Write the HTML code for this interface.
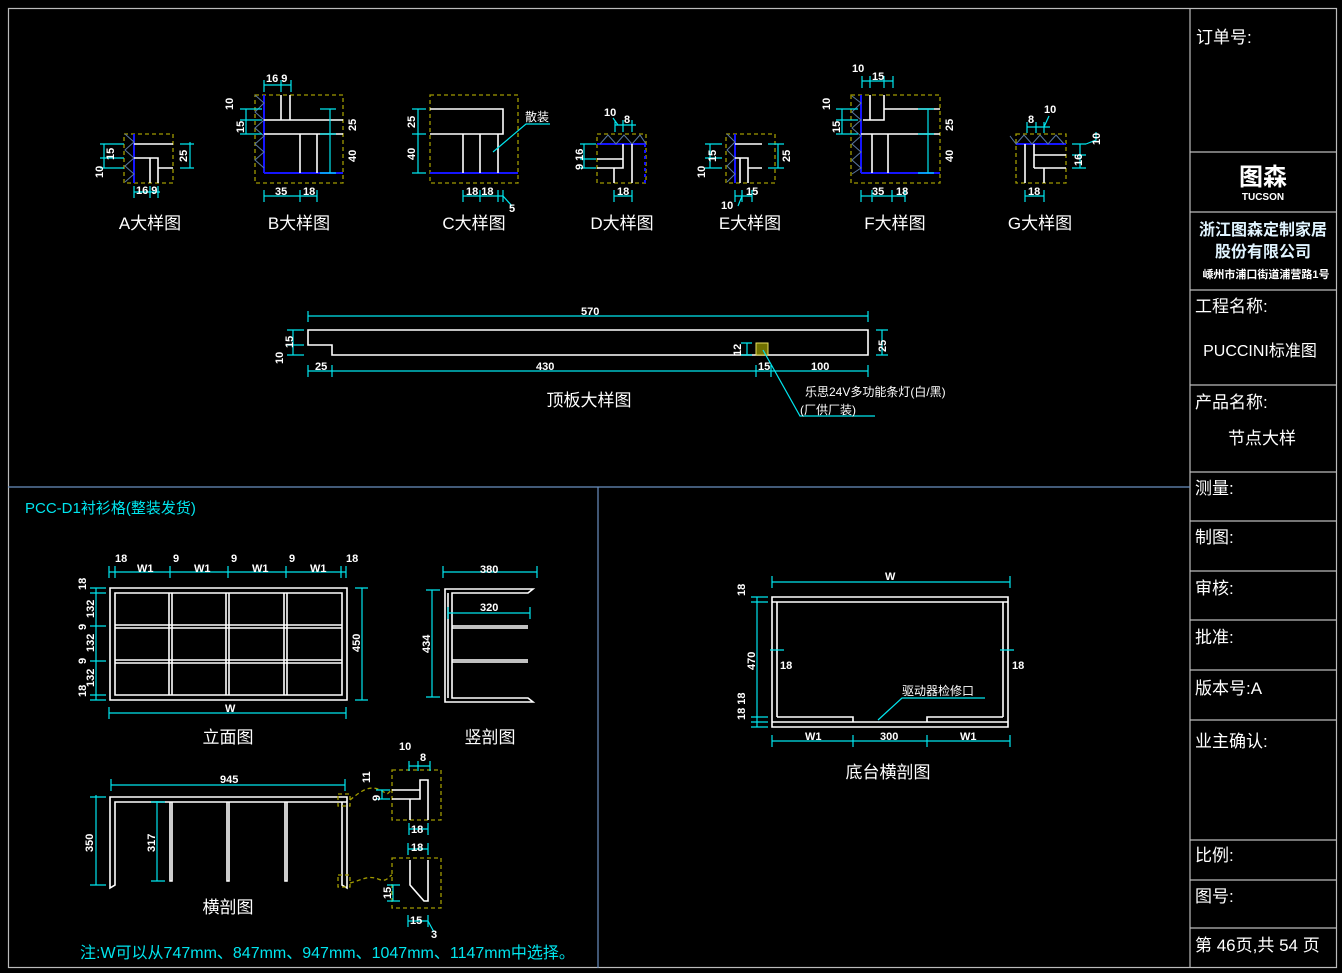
<!DOCTYPE html>
<html><head><meta charset="utf-8"><style>
html,body{margin:0;padding:0;background:#000;}
svg{display:block}
text{font-family:"Liberation Sans","Noto Sans CJK SC",sans-serif;}
.w{stroke:#fff;stroke-width:1.6;fill:none}
.c{stroke:#00e5ee;stroke-width:1.2;fill:none}
.y{stroke:#a09a00;stroke-width:1.3;fill:none;stroke-dasharray:4 3}
.b{stroke:#1515ff;stroke-width:2;fill:none}
.h{stroke:#5a78a0;stroke-width:1;fill:none}
.t{fill:#fff;font-size:11px;font-weight:bold}
.l{fill:#fff;font-size:17px}
.tb{fill:#fff;font-size:17px}
</style></head><body>
<svg width="1342" height="973" viewBox="0 0 1342 973">
<!-- frame -->
<rect x="8.5" y="8.5" width="1328" height="959" fill="none" stroke="#bbb" stroke-width="1.2"/>
<line x1="1190" y1="8" x2="1190" y2="968" stroke="#bbb" stroke-width="1.2"/>
<line x1="8" y1="487" x2="1190" y2="487" stroke="#6a90c0" stroke-width="1.2"/>
<line x1="598" y1="487" x2="598" y2="968" stroke="#6a90c0" stroke-width="1.2"/>
<g stroke="#bbb" stroke-width="1.2">
<line x1="1190" y1="152" x2="1336" y2="152"/><line x1="1190" y1="212" x2="1336" y2="212"/>
<line x1="1190" y1="290" x2="1336" y2="290"/><line x1="1190" y1="385" x2="1336" y2="385"/>
<line x1="1190" y1="472" x2="1336" y2="472"/><line x1="1190" y1="521" x2="1336" y2="521"/>
<line x1="1190" y1="571" x2="1336" y2="571"/><line x1="1190" y1="620" x2="1336" y2="620"/>
<line x1="1190" y1="670" x2="1336" y2="670"/><line x1="1190" y1="720" x2="1336" y2="720"/>
<line x1="1190" y1="840" x2="1336" y2="840"/><line x1="1190" y1="880" x2="1336" y2="880"/>
<line x1="1190" y1="928" x2="1336" y2="928"/>
</g>
<text class="tb" x="1196" y="43">订单号:</text>
<text x="1263" y="185" text-anchor="middle" fill="#fff" font-size="24" font-weight="bold">图森</text>
<text x="1263" y="200" text-anchor="middle" fill="#fff" font-size="10" font-weight="bold">TUCSON</text>
<text x="1263" y="235" text-anchor="middle" fill="#e0f4ff" font-size="16" font-weight="bold">浙江图森定制家居</text>
<text x="1263" y="257" text-anchor="middle" fill="#e0f4ff" font-size="16" font-weight="bold">股份有限公司</text>
<text x="1266" y="278" text-anchor="middle" fill="#fff" font-size="11" font-weight="bold">嵊州市浦口街道浦营路1号</text>
<text class="tb" x="1195" y="312">工程名称:</text>
<text x="1260" y="356" text-anchor="middle" fill="#fff" font-size="16">PUCCINI标准图</text>
<text class="tb" x="1195" y="408">产品名称:</text>
<text x="1262" y="444" text-anchor="middle" fill="#fff" font-size="17">节点大样</text>
<text class="tb" x="1195" y="494">测量:</text>
<text class="tb" x="1195" y="543">制图:</text>
<text class="tb" x="1195" y="594">审核:</text>
<text class="tb" x="1195" y="643">批准:</text>
<text class="tb" x="1195" y="694">版本号:A</text>
<text class="tb" x="1195" y="747">业主确认:</text>
<text class="tb" x="1195" y="861">比例:</text>
<text class="tb" x="1195" y="902">图号:</text>
<text class="tb" x="1195" y="951">第 46页,共 54 页</text>

<!-- A -->
<rect class="y" x="124" y="134" width="49" height="49"/>
<line class="b" x1="134" y1="134" x2="134" y2="183"/>
<polyline class="h" points="125,134 134,142 125,150 134,158 125,166 134,174 125,182"/>
<path class="w" d="M134 144H173M134 158H158V168H173M150 158V183M158 168V183"/>
<path class="c" d="M104 144V168M100 144H124M100 158H124M100 168H124M190 142V168M180 144H194M180 168H194M134 192H160M134 186V198M150 186V198M158 186V198"/>
<text class="t" x="114" y="160" transform="rotate(-90 114 160)">15</text>
<text class="t" x="103" y="178" transform="rotate(-90 103 178)">10</text>
<text class="t" x="187" y="162" transform="rotate(-90 187 162)">25</text>
<text class="t" x="136" y="194">16 9</text>
<text class="l" x="150" y="229" text-anchor="middle">A大样图</text>

<!-- B -->
<rect class="y" x="255" y="95" width="88" height="88"/>
<line class="b" x1="264" y1="95" x2="264" y2="173"/><line class="b" x1="264" y1="173" x2="343" y2="173"/>
<polyline class="h" points="255,95 264,103 255,112 264,120 255,128 264,136 255,144 264,152 255,160 264,168"/>
<path class="w" d="M281 95V120M290 95V120H343M264 120H290M264 134H343M300 134V173M317 134V173"/>
<path class="c" d="M246 109V134M240 109H262M240 120H262M240 134H262M330 109V173M320 109H336M320 134H336M320 173H336M264 196H317M264 190V202M300 190V202M317 190V202M264 85H291M264 80V92M281 80V92M291 80V92"/>
<text class="t" x="233" y="110" transform="rotate(-90 233 110)">10</text>
<text class="t" x="244" y="133" transform="rotate(-90 244 133)">15</text>
<text class="t" x="356" y="131" transform="rotate(-90 356 131)">25</text>
<text class="t" x="356" y="162" transform="rotate(-90 356 162)">40</text>
<text class="t" x="275" y="195">35</text><text class="t" x="303" y="195">18</text>
<text class="t" x="266" y="82">16 9</text>
<text class="l" x="299" y="229" text-anchor="middle">B大样图</text>

<!-- C -->
<rect class="y" x="430" y="95" width="88" height="88"/>
<line class="b" x1="430" y1="173" x2="518" y2="173"/>
<path class="w" d="M430 109H503V134H430M463 134V173M480 134V173M498 134V173"/>
<path class="c" d="M418 109V173M412 109H426M412 134H426M412 173H426M463 196H503M463 190V202M480 190V202M498 190V202M503 190V202M503 196L512 206M493 152L526 124H550"/>
<text class="t" x="415" y="128" transform="rotate(-90 415 128)">25</text>
<text class="t" x="415" y="160" transform="rotate(-90 415 160)">40</text>
<text class="t" x="466" y="195">18 18</text><text class="t" x="509" y="212">5</text>
<text x="525" y="121" fill="#fff" font-size="12">散装</text>
<text class="l" x="474" y="229" text-anchor="middle">C大样图</text>

<!-- D -->
<rect class="y" x="597" y="134" width="49" height="49"/>
<line class="b" x1="597" y1="144" x2="646" y2="144"/><line class="b" x1="645" y1="144" x2="645" y2="183" stroke-dasharray="3 3"/>
<polyline class="h" points="600,144 608,135 616,144 624,135 632,144 640,135 646,144"/>
<path class="w" d="M632 144V183M597 159H623M597 168H623V144M614 168V183"/>
<path class="c" d="M584 144V168M580 144H596M580 159H596M580 168H596M614 196H632M614 190V202M632 190V202M615 125H636M615 120V132M623 120V132M632 120V132M613 118L618 125"/>
<text class="t" x="583" y="170" transform="rotate(-90 583 170)">9 16</text>
<text class="t" x="604" y="116">10</text><text class="t" x="624" y="123">8</text>
<text class="t" x="617" y="195">18</text>
<text class="l" x="622" y="229" text-anchor="middle">D大样图</text>

<!-- E -->
<rect class="y" x="726" y="134" width="49" height="49"/>
<line class="b" x1="735" y1="134" x2="735" y2="183"/>
<polyline class="h" points="727,134 735,142 727,150 735,158 727,166 735,174 727,182"/>
<path class="w" d="M735 144H762M735 158H748V183M740 158V183M748 168H762"/>
<path class="c" d="M710 144V168M705 144H722M705 158H722M705 168H722M778 144V168M768 144H784M768 168H784M735 196H752M735 190V202M742 190V202M752 190V202M742 196L738 206"/>
<text class="t" x="716" y="162" transform="rotate(-90 716 162)">15</text>
<text class="t" x="705" y="178" transform="rotate(-90 705 178)">10</text>
<text class="t" x="790" y="162" transform="rotate(-90 790 162)">25</text>
<text class="t" x="746" y="195">15</text><text class="t" x="721" y="209">10</text>
<text class="l" x="750" y="229" text-anchor="middle">E大样图</text>

<!-- F -->
<rect class="y" x="851" y="95" width="89" height="88"/>
<line class="b" x1="861" y1="95" x2="861" y2="173"/><line class="b" x1="861" y1="173" x2="940" y2="173"/>
<polyline class="h" points="852,96 861,103 852,112 861,120 852,128 861,136 852,144 861,152 852,160 861,168 852,174"/>
<path class="w" d="M870 95V120M863 120H884V95M884 109H940M861 134H940M872 134V173M888 134V173"/>
<path class="c" d="M842 109V134M836 109H858M836 120H858M836 134H858M928 109V173M918 109H934M918 134H934M918 173H934M861 196H905M861 190V202M872 190V202M892 190V202M905 190V202M862 81H893M862 76V88M870 76V88M884 76V88M893 76V88"/>
<text class="t" x="830" y="110" transform="rotate(-90 830 110)">10</text>
<text class="t" x="840" y="133" transform="rotate(-90 840 133)">15</text>
<text class="t" x="953" y="131" transform="rotate(-90 953 131)">25</text>
<text class="t" x="953" y="162" transform="rotate(-90 953 162)">40</text>
<text class="t" x="852" y="72">10</text><text class="t" x="872" y="80">15</text>
<text class="t" x="872" y="195">35</text><text class="t" x="896" y="195">18</text>
<text class="l" x="895" y="229" text-anchor="middle">F大样图</text>

<!-- G -->
<rect class="y" x="1016" y="134" width="50" height="49"/>
<line class="b" x1="1016" y1="144" x2="1066" y2="144"/>
<polyline class="h" points="1010,136 1016,144 1024,135 1032,144 1040,135 1048,144 1056,135 1064,144"/>
<path class="w" d="M1025 144V183M1034 155H1066M1034 168H1066M1034 144V168M1044 168V183"/>
<path class="c" d="M1025 196H1044M1025 190V202M1044 190V202M1027 127H1050M1027 122V133M1036 122V133M1044 122V133M1044 127L1049 116M1080 144V168M1072 144H1086M1072 155H1086M1072 168H1086M1086 144L1096 140V132"/>
<text class="t" x="1028" y="123">8</text><text class="t" x="1044" y="113">10</text>
<text class="t" x="1082" y="166" transform="rotate(-90 1082 166)">16</text>
<text class="t" x="1100" y="145" transform="rotate(-90 1100 145)">10</text>
<text class="t" x="1028" y="195">18</text>
<text class="l" x="1040" y="229" text-anchor="middle">G大样图</text>

<!-- top board -->
<path class="w" d="M308 330H868V355H332V345H308Z"/>
<rect x="756" y="343" width="12" height="12" fill="#707000" stroke="#e8e060" stroke-width="1"/>
<path class="c" d="M308 316H868M308 311V322M868 311V322M308 371H868M308 365V377M332 365V377M756 365V377M771 365V377M868 365V377M293 330V355M287 330H304M287 345H304M287 355H304M882 330V355M876 330H888M876 355H888M747 343V355M741 343H752M741 355H752M763 350L800 416H875"/>
<text class="t" x="581" y="315">570</text>
<text class="t" x="315" y="370">25</text><text class="t" x="536" y="370">430</text>
<text class="t" x="758" y="370">15</text><text class="t" x="811" y="370">100</text>
<text class="t" x="293" y="348" transform="rotate(-90 293 348)">15</text>
<text class="t" x="283" y="364" transform="rotate(-90 283 364)">10</text>
<text class="t" x="886" y="352" transform="rotate(-90 886 352)">25</text>
<text class="t" x="741" y="356" transform="rotate(-90 741 356)">12</text>
<text x="805" y="396" fill="#fff" font-size="12">乐思24V多功能条灯(白/黑)</text>
<text x="800" y="414" fill="#fff" font-size="12">(厂供厂装)</text>
<text class="l" x="589" y="406" text-anchor="middle">顶板大样图</text>

<!-- lower left -->
<text x="25" y="513" fill="#00e5ee" font-size="15">PCC-D1衬衫格(整装发货)</text>
<path class="w" d="M110 588H347V700H110ZM115 593H342V695H115Z"/>
<path class="w" stroke-width="1.2" d="M169 593V695M172 593V695M226 593V695M229 593V695M284 593V695M287 593V695M115 625H342M115 628H342M115 660H342M115 663H342"/>
<path class="c" d="M109 572H346M109 566V578M115 566V578M170 566V578M228 566V578M286 566V578M341 566V578M346 566V578M96 588V700M90 588H106M90 593H106M90 626H106M90 661H106M90 695H106M90 700H106M362 588V700M355 588H368M355 700H368M109 713H346M109 707V719M346 707V719"/>
<text class="t" x="115" y="562">18</text><text class="t" x="173" y="562">9</text><text class="t" x="231" y="562">9</text><text class="t" x="289" y="562">9</text><text class="t" x="346" y="562">18</text>
<text class="t" x="137" y="572">W1</text><text class="t" x="194" y="572">W1</text><text class="t" x="252" y="572">W1</text><text class="t" x="310" y="572">W1</text>
<text class="t" x="86" y="590" transform="rotate(-90 86 590)">18</text>
<text class="t" x="94" y="618" transform="rotate(-90 94 618)">132</text>
<text class="t" x="86" y="630" transform="rotate(-90 86 630)">9</text>
<text class="t" x="94" y="652" transform="rotate(-90 94 652)">132</text>
<text class="t" x="86" y="664" transform="rotate(-90 86 664)">9</text>
<text class="t" x="94" y="687" transform="rotate(-90 94 687)">132</text>
<text class="t" x="86" y="697" transform="rotate(-90 86 697)">18</text>
<text class="t" x="360" y="652" transform="rotate(-90 360 652)">450</text>
<text class="t" x="225" y="712">W</text>
<text class="l" x="228" y="743" text-anchor="middle">立面图</text>

<path class="w" d="M445 589H533L528 593H452V698H528L533 702H445ZM448 593V698M452 626H528M452 628H528M452 660H528M452 662H528"/>
<path class="c" d="M443 572H537M443 566V578M537 566V578M448 613H530M448 607V619M530 607V619M432 590V697M426 590H440M426 697H440"/>
<text class="t" x="480" y="573">380</text><text class="t" x="480" y="611">320</text>
<text class="t" x="430" y="653" transform="rotate(-90 430 653)">434</text>
<text class="l" x="490" y="743" text-anchor="middle">竖剖图</text>

<path class="w" d="M110 797H347V802H115V885L110 888ZM342 802V885L347 888V797M170 802V881H172V802M227 802V881H229V802M285 802V881H287V802"/>
<path class="c" d="M111 785H345M111 779V791M345 779V791M96 795V885M90 797H106M90 885H106M157 801V881M151 802H165M151 881H165"/>
<text class="t" x="220" y="783">945</text>
<text class="t" x="93" y="852" transform="rotate(-90 93 852)">350</text>
<text class="t" x="155" y="852" transform="rotate(-90 155 852)">317</text>
<rect class="y" x="338" y="794" width="12" height="12"/><rect class="y" x="338" y="875" width="12" height="12"/>
<path class="y" d="M350 800C362 790 370 785 380 790S385 795 392 790M350 883C362 880 368 875 378 879S388 876 392 875"/>
<rect class="y" x="392" y="770" width="49" height="50"/>
<path class="w" d="M392 790H420V780H428V820M392 799H420V790M410 799V820"/>
<rect class="y" x="392" y="858" width="49" height="50"/>
<path class="w" d="M410 860V885L424 901H428V860"/>
<path class="c" d="M409 766H430M409 761V771M418 761V771M430 761V771M382 790V799M376 790H390M376 799H390M409 829H428M409 823V835M428 823V835M408 849H428M408 843V855M428 843V855M393 885V901M387 885H400M387 901H400M408 921H428M408 915V927M428 915V927M428 921L434 932"/>
<text class="t" x="399" y="750">10</text><text class="t" x="420" y="761">8</text>
<text class="t" x="370" y="783" transform="rotate(-90 370 783)">11</text>
<text class="t" x="380" y="801" transform="rotate(-90 380 801)">9</text>
<text class="t" x="411" y="833">18</text><text class="t" x="411" y="851">18</text>
<text class="t" x="391" y="899" transform="rotate(-90 391 899)">15</text>
<text class="t" x="410" y="924">15</text><text class="t" x="431" y="938">3</text>
<text class="l" x="228" y="913" text-anchor="middle">横剖图</text>
<text x="80" y="958" fill="#00e5ee" font-size="16">注:W可以从747mm、847mm、947mm、1047mm、1147mm中选择。</text>

<!-- base section -->
<path class="w" d="M772 597H1008V727H772ZM772 602H1008M777 602V717M1003 602V717M777 717H853V722M927 722V717H1003M772 722H1008"/>
<path class="c" d="M772 582H1010M772 576V588M1010 576V588M757 597V727M751 597H768M751 602H768M751 717H768M751 722H768M751 727H768M772 741H1010M772 735V747M853 735V747M927 735V747M1010 735V747M770 650H784M1000 650H1014M878 720L902 698H985"/>
<text class="t" x="885" y="580">W</text>
<text class="t" x="745" y="596" transform="rotate(-90 745 596)">18</text>
<text class="t" x="755" y="670" transform="rotate(-90 755 670)">470</text>
<text class="t" x="745" y="720" transform="rotate(-90 745 720)">18 18</text>
<text class="t" x="780" y="669">18</text><text class="t" x="1012" y="669">18</text>
<text class="t" x="805" y="740">W1</text><text class="t" x="880" y="740">300</text><text class="t" x="960" y="740">W1</text>
<text x="902" y="695" fill="#fff" font-size="12">驱动器检修口</text>
<text class="l" x="888" y="778" text-anchor="middle">底台横剖图</text>
</svg>
</body></html>
